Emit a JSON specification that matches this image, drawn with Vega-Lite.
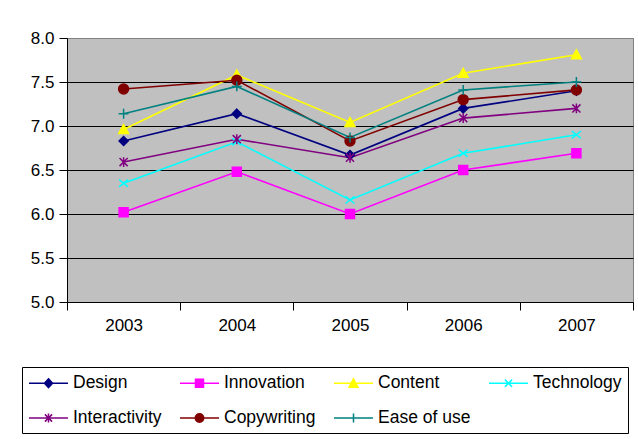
{
  "$schema": "https://vega.github.io/schema/vega-lite/v6.json",
  "width": 566,
  "height": 264,
  "autosize": {"type": "none"},
  "padding": {"left": 67, "top": 38, "right": 5, "bottom": 137},
  "background": "white",
  "title": {
    "text": "Average Scores by Judging Criteria",
    "anchor": "start",
    "dx": -28,
    "offset": 9,
    "baseline": "alphabetic",
    "font": "Liberation Sans",
    "fontSize": 26.6,
    "fontWeight": "bold",
    "color": "black"
  },
  "config": {
    "view": {"fill": "#C0C0C0", "stroke": "#808080", "strokeWidth": 1},
    "font": "Liberation Sans"
  },
  "data": {
    "values": [
      {"year": "2003", "series": "Design", "score": 6.83},
      {"year": "2004", "series": "Design", "score": 7.14},
      {"year": "2005", "series": "Design", "score": 6.67},
      {"year": "2006", "series": "Design", "score": 7.2},
      {"year": "2007", "series": "Design", "score": 7.4},
      {"year": "2003", "series": "Innovation", "score": 6.02},
      {"year": "2004", "series": "Innovation", "score": 6.48},
      {"year": "2005", "series": "Innovation", "score": 6.0},
      {"year": "2006", "series": "Innovation", "score": 6.5},
      {"year": "2007", "series": "Innovation", "score": 6.69},
      {"year": "2003", "series": "Content", "score": 6.96},
      {"year": "2004", "series": "Content", "score": 7.58},
      {"year": "2005", "series": "Content", "score": 7.04},
      {"year": "2006", "series": "Content", "score": 7.6},
      {"year": "2007", "series": "Content", "score": 7.81},
      {"year": "2003", "series": "Technology", "score": 6.35},
      {"year": "2004", "series": "Technology", "score": 6.82},
      {"year": "2005", "series": "Technology", "score": 6.16},
      {"year": "2006", "series": "Technology", "score": 6.69},
      {"year": "2007", "series": "Technology", "score": 6.9},
      {"year": "2003", "series": "Interactivity", "score": 6.59},
      {"year": "2004", "series": "Interactivity", "score": 6.85},
      {"year": "2005", "series": "Interactivity", "score": 6.64},
      {"year": "2006", "series": "Interactivity", "score": 7.09},
      {"year": "2007", "series": "Interactivity", "score": 7.2},
      {"year": "2003", "series": "Copywriting", "score": 7.42},
      {"year": "2004", "series": "Copywriting", "score": 7.52},
      {"year": "2005", "series": "Copywriting", "score": 6.83},
      {"year": "2006", "series": "Copywriting", "score": 7.3},
      {"year": "2007", "series": "Copywriting", "score": 7.41},
      {"year": "2003", "series": "Ease of use", "score": 7.14},
      {"year": "2004", "series": "Ease of use", "score": 7.45},
      {"year": "2005", "series": "Ease of use", "score": 6.87},
      {"year": "2006", "series": "Ease of use", "score": 7.41},
      {"year": "2007", "series": "Ease of use", "score": 7.5}
    ]
  },
  "encoding": {
    "x": {
      "field": "year",
      "type": "ordinal",
      "scale": {"type": "band", "paddingInner": 0, "paddingOuter": 0},
      "axis": {
        "title": null,
        "labelAngle": 0,
        "tickBand": "extent",
        "labelFont": "Liberation Sans",
        "labelFontSize": 17,
        "labelColor": "black",
        "tickColor": "black",
        "tickSize": 8,
        "domainColor": "black",
        "labelPadding": 7,
        "grid": false
      }
    },
    "y": {
      "field": "score",
      "type": "quantitative",
      "scale": {"domain": [5, 8], "nice": false, "zero": false},
      "axis": {
        "title": null,
        "values": [5, 5.5, 6, 6.5, 7, 7.5, 8],
        "format": ".1f",
        "labelFont": "Liberation Sans",
        "labelFontSize": 17,
        "labelColor": "black",
        "tickColor": "black",
        "tickSize": 8,
        "domainColor": "black",
        "labelPadding": 5,
        "grid": true,
        "gridColor": {"condition": {"test": "datum.value >= 8", "value": "#808080"}, "value": "black"},
        "gridOpacity": 1,
        "gridWidth": 1
      }
    }
  },
  "layer": [
    {
      "mark": {"type": "line", "strokeWidth": 1.6},
      "encoding": {
        "color": {
          "field": "series",
          "type": "nominal",
          "scale": {
            "domain": ["Design", "Innovation", "Content", "Technology", "Interactivity", "Copywriting", "Ease of use"],
            "range": ["#000080", "#FF00FF", "#FFFF00", "#00FFFF", "#800080", "#800000", "#008080"]
          },
          "legend": {
            "orient": "none",
            "legendX": -45,
            "legendY": 329,
            "direction": "horizontal",
            "columns": 4,
            "title": null,
            "strokeColor": "black",
            "fillColor": "white",
            "padding": 6,
            "columnPadding": 15,
            "rowPadding": 16,
            "symbolSize": 324,
            "labelOffset": 25,
            "labelFont": "Liberation Sans",
            "labelFontSize": 17.5,
            "labelColor": "black",
            "labelLimit": 250,
            "encode": {
              "symbols": {
                "update": {
                  "shape": {"signal": "datum.value === 'Design' ? 'M-1,0H3.333M1.1667,-0.5L1.6167,0L1.1667,0.5L0.7167,0Z' : datum.value === 'Innovation' ? 'M-1,0H3.333M0.722,-0.444H1.611V0.444H0.722Z' : datum.value === 'Content' ? 'M-1,0H3.333M1.1667,-0.5L1.6667,0.45H0.6667Z' : datum.value === 'Technology' ? 'M-1,0H3.333M0.7667,-0.4L1.5667,0.4M0.7667,0.4L1.5667,-0.4' : datum.value === 'Interactivity' ? 'M-1,0H3.333M0.7667,-0.4L1.5667,0.4M0.7667,0.4L1.5667,-0.4M1.1667,-0.5V0.5' : datum.value === 'Copywriting' ? 'M-1,0H3.333M1.6367,0A0.47,0.47 0 1,1 0.6967,0A0.47,0.47 0 1,1 1.6367,0Z' : 'M-1,0H3.333M1.1667,-0.5V0.5'"},
                  "fill": {"scale": "color", "field": "value"},
                  "stroke": {"scale": "color", "field": "value"},
                  "strokeWidth": {"value": 1.5},
                  "opacity": {"value": 1}
                }
              }
            }
          }
        }
      }
    },
    {
      "mark": {
        "type": "point",
        "filled": true,
        "size": 81,
        "opacity": 1,
        "strokeWidth": 1.5,
        "shape": {"expr": "datum.series === 'Design' ? 'M0,-1L1,0L0,1L-1,0Z' : datum.series === 'Innovation' ? 'M-1,-1H1V1H-1Z' : datum.series === 'Content' ? 'M0,-1.1L1.1,0.9H-1.1Z' : datum.series === 'Technology' ? 'M-1,-0.8L1,0.8M-1,0.8L1,-0.8' : datum.series === 'Interactivity' ? 'M-0.9,-0.9L0.9,0.9M-0.9,0.9L0.9,-0.9M0,-1.1V1.1' : datum.series === 'Copywriting' ? 'M1.1,0A1.1,1.1 0 1,1 -1.1,0A1.1,1.1 0 1,1 1.1,0Z' : 'M-1.1,0H1.1M0,-1.1V1.1'"}
      },
      "encoding": {
        "fill": {
          "field": "series",
          "type": "nominal",
          "scale": {
            "domain": ["Design", "Innovation", "Content", "Technology", "Interactivity", "Copywriting", "Ease of use"],
            "range": ["#000080", "#FF00FF", "#FFFF00", "#00FFFF", "#800080", "#800000", "#008080"]
          },
          "legend": null
        },
        "stroke": {
          "field": "series",
          "type": "nominal",
          "scale": {
            "domain": ["Design", "Innovation", "Content", "Technology", "Interactivity", "Copywriting", "Ease of use"],
            "range": ["#000080", "#FF00FF", "#FFFF00", "#00FFFF", "#800080", "#800000", "#008080"]
          },
          "legend": null
        }
      }
    }
  ]
}
